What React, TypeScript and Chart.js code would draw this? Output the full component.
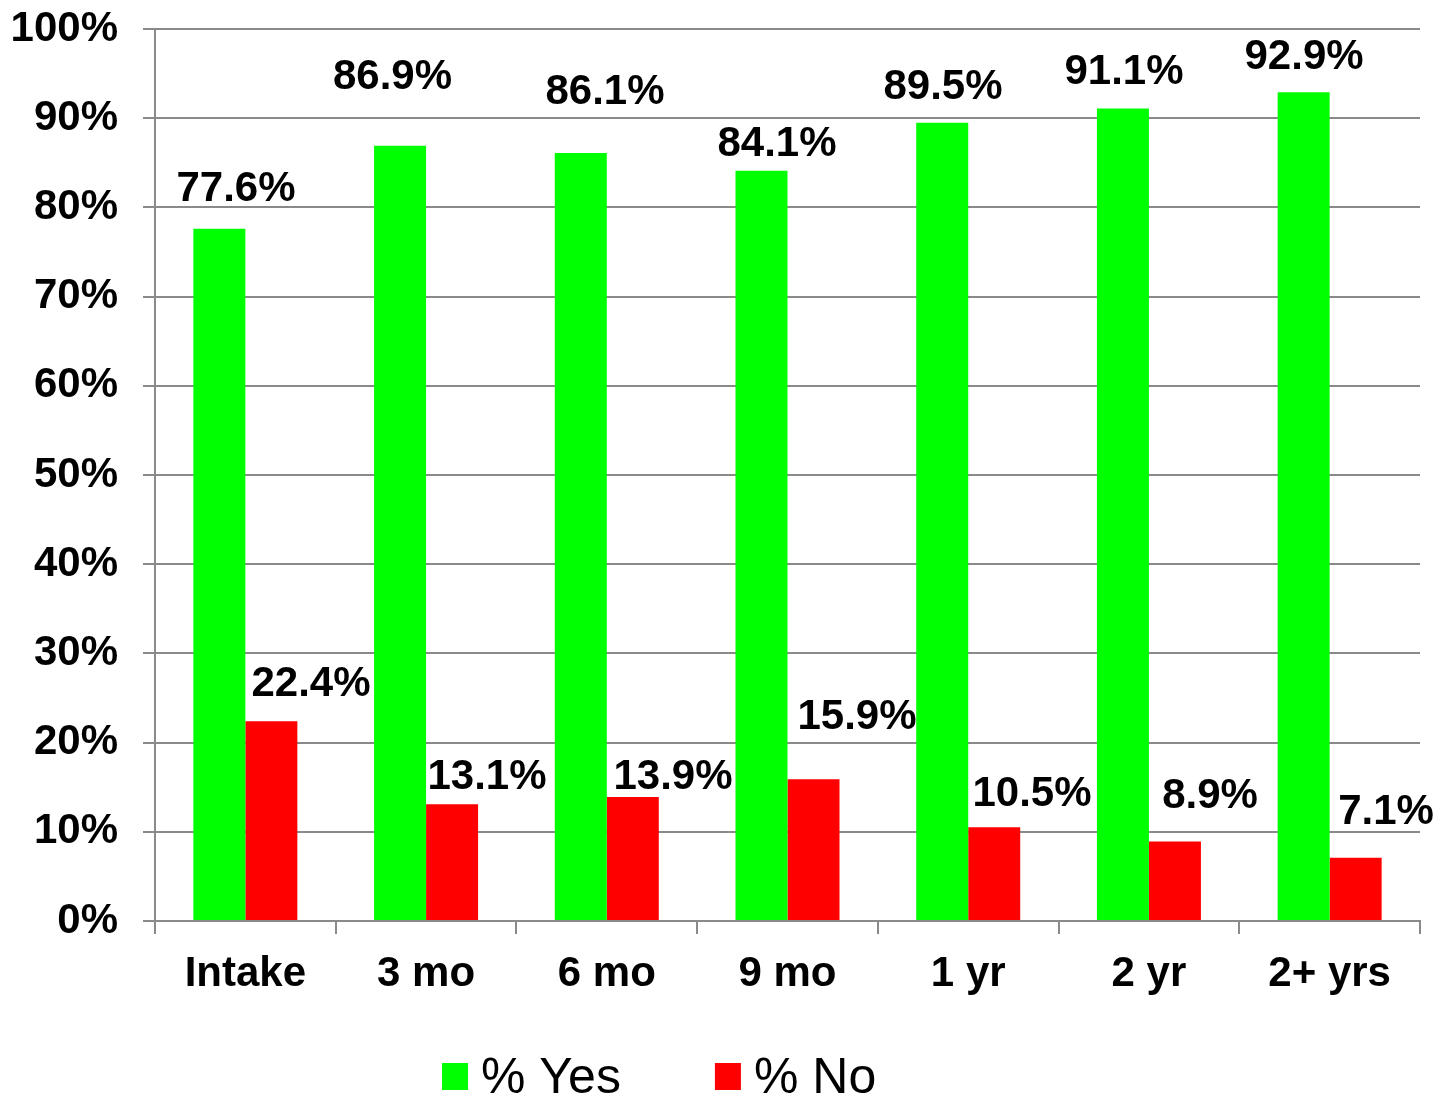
import React, { useEffect, useRef } from 'react';
import { Chart, registerables } from 'chart.js';

Chart.register(...registerables);

// ---- data ----
const categories = ['Intake', '3 mo', '6 mo', '9 mo', '1 yr', '2 yr', '2+ yrs'];
const yesValues = [77.6, 86.9, 86.1, 84.1, 89.5, 91.1, 92.9];
const noValues = [22.4, 13.1, 13.9, 15.9, 10.5, 8.9, 7.1];
const seriesNames = ['% Yes', '% No'];
const yMin = 0;
const yMax = 100;
const yStep = 10;

// ---- styling: label nudges relative to bar top centre (px) ----
const yesLabelDx = [16.6, -7.6, 24.2, 15.5, 0.8, 1.1, 0.4];
const yesLabelDy = [-39.8, -68.4, -60.5, -26.3, -35.2, -35.9, -34.8];
const noLabelDx = [39.6, 34.9, 40.2, 43.5, 37.8, 35.1, 30.4];
const noLabelDy = [-37.2, -26.6, -19.5, -61.7, -33.3, -45.1, -45.7];

const FONT = "'Liberation Sans', Arial, Helvetica, sans-serif";
const GRID = '#8a8a8a';
const COLORS = ['#00ff00', '#ff0000'];

const valueLabelPlugin = {
  id: 'valueLabels',
  afterDatasetsDraw(chart: any) {
    const ctx = chart.ctx;
    ctx.save();
    ctx.font = `bold 42px ${FONT}`;
    ctx.fillStyle = '#000';
    ctx.textAlign = 'center';
    ctx.textBaseline = 'middle';
    const dxs = [yesLabelDx, noLabelDx];
    const dys = [yesLabelDy, noLabelDy];
    chart.data.datasets.forEach((ds: any, di: number) => {
      const meta = chart.getDatasetMeta(di);
      meta.data.forEach((bar: any, i: number) => {
        const v = ds.data[i];
        ctx.fillText(`${v.toFixed(1)}%`, bar.x + dxs[di][i], bar.y + dys[di][i]);
      });
    });
    ctx.restore();
  },
};

const legendPlugin = {
  id: 'customLegend',
  afterDraw(chart: any) {
    const ctx = chart.ctx;
    ctx.save();
    ctx.font = `50px ${FONT}`;
    ctx.textBaseline = 'alphabetic';
    ctx.textAlign = 'left';
    let x = 442;
    const boxTop = 1063;
    const boxW = 26;
    const boxH = 27;
    chart.data.datasets.forEach((ds: any) => {
      ctx.fillStyle = ds.backgroundColor;
      ctx.fillRect(x, boxTop, boxW, boxH);
      ctx.fillStyle = '#000';
      const tx = x + boxW + 13;
      ctx.fillText(ds.label, tx, 1093);
      x = tx + ctx.measureText(ds.label).width + 94;
    });
    ctx.restore();
  },
};

export default function App() {
  const ref = useRef<HTMLCanvasElement | null>(null);

  useEffect(() => {
    document.body.style.margin = '0';
    if (!ref.current) return;
    const chart = new Chart(ref.current, {
      type: 'bar',
      data: {
        labels: categories,
        datasets: [
          {
            label: seriesNames[0],
            data: yesValues,
            backgroundColor: COLORS[0],
            barPercentage: 1,
            categoryPercentage: 0.5755,
          },
          {
            label: seriesNames[1],
            data: noValues,
            backgroundColor: COLORS[1],
            barPercentage: 1,
            categoryPercentage: 0.5755,
          },
        ],
      },
      options: {
        responsive: false,
        animation: false,
        layout: { padding: { top: 29, right: 23, left: 0, bottom: 0 } },
        plugins: {
          legend: { display: false },
          tooltip: { enabled: false },
        },
        scales: {
          x: {
            grid: {
              display: true,
              drawOnChartArea: false,
              drawTicks: true,
              tickLength: 13,
              color: GRID,
              lineWidth: 2,
              offset: true,
            },
            border: { display: true, color: GRID, width: 2 },
            ticks: {
              color: '#000',
              font: { family: FONT, size: 42, weight: 'bold' },
              padding: 15,
              maxRotation: 0,
              autoSkip: false,
            },
            afterFit(scale: any) {
              scale.height = 178;
              scale.paddingLeft = 0;
              scale.paddingRight = 0;
            },
          },
          y: {
            min: yMin,
            max: yMax,
            grid: {
              color: GRID,
              lineWidth: 2,
              tickLength: 12,
              drawTicks: true,
            },
            border: { display: true, color: GRID, width: 2 },
            ticks: {
              stepSize: yStep,
              color: '#000',
              padding: 25,
              font: { family: FONT, size: 42, weight: 'bold' },
              callback: (v: any) => `${v}%`,
            },
            afterFit(scale: any) {
              scale.width = 155;
              scale.paddingTop = 0;
              scale.paddingBottom = 0;
            },
          },
        },
      },
      plugins: [valueLabelPlugin, legendPlugin],
    } as any);
    return () => chart.destroy();
  }, []);

  return (
    <div style={{ position: 'absolute', left: 0, top: 0, width: 1443, height: 1099, background: '#fff' }}>
      <canvas ref={ref} width={1443} height={1099} style={{ display: 'block' }} />
    </div>
  );
}
